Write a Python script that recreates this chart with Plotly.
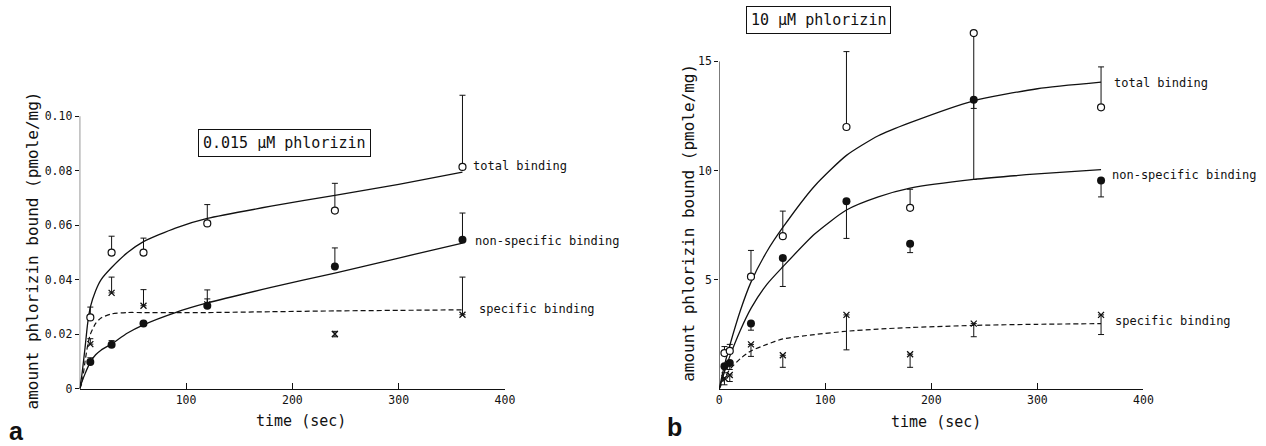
import plotly.graph_objects as go

W, H = 1266, 446          # reference picture size (layout positions are fractions of it)
FIG_W, FIG_H = 1274, 454  # figure size (page capture is scaled down to the window)

# ---------------- Panel a : 0.015 uM phlorizin ----------------
a_t = [10, 30, 60, 120, 240, 360]
a_total = [0.0262, 0.050, 0.050, 0.0607, 0.0654, 0.0814]
a_total_err_up = [0.0038, 0.006, 0.0053, 0.0069, 0.010, 0.0263]
a_nonspec = [0.0099, 0.0162, 0.024, 0.0305, 0.0449, 0.0547]
a_nonspec_err_up = [0.0015, 0.0015, 0.0, 0.0058, 0.0068, 0.0098]
a_spec = [0.0164, 0.0352, 0.0305, 0.031, 0.0201, 0.0272]
a_spec_err_up = [0.002, 0.0058, 0.0059, 0.002, 0.001, 0.0138]
a_spec_err_dn = [0.0, 0.0, 0.0, 0.0, 0.001, 0.0]

a_curve_t = [0, 2, 5, 7.5, 10, 15, 20, 30, 45, 60, 90, 120, 180, 240, 300, 360]
a_curve_total = [0, 0.005, 0.015, 0.024, 0.030, 0.036, 0.040, 0.0445, 0.050, 0.054,
                 0.059, 0.0625, 0.067, 0.071, 0.075, 0.0795]
a_curve_nonspec = [0, 0.0025, 0.0055, 0.0078, 0.0098, 0.0125, 0.0142, 0.0165, 0.0205,
                   0.0235, 0.028, 0.0315, 0.0372, 0.0425, 0.048, 0.0535]
a_curve_spec = [0, 0.002, 0.010, 0.016, 0.020, 0.024, 0.026, 0.0275, 0.028, 0.028,
                0.028, 0.028, 0.0283, 0.0286, 0.0288, 0.029]

a_yticks = [0, 0.02, 0.04, 0.06, 0.08, 0.10]
a_yticktext = ["0", "0.02", "0.04", "0.06", "0.08", "0.10"]
a_xticks = [100, 200, 300, 400]
a_ymax = 0.10

# ---------------- Panel b : 10 uM phlorizin ----------------
b_t = [5, 10, 30, 60, 120, 180, 240, 360]
b_total = [1.65, 1.75, 5.15, 7.0, 12.0, 8.3, 16.3, 12.9]
b_total_err_up = [0.3, 0.3, 1.2, 1.15, 3.45, 0.85, 0.0, 1.85]
b_total_err_dn = [0, 0, 0, 0, 0, 0, 6.7, 0]
b_nonspec = [1.05, 1.2, 3.0, 6.0, 8.6, 6.65, 13.25, 9.55]
b_nonspec_err_dn = [0.3, 0.3, 0.3, 1.3, 1.7, 0.4, 0.4, 0.75]
b_spec = [0.5, 0.65, 2.05, 1.55, 3.4, 1.6, 3.0, 3.4]
b_spec_err_dn = [0.3, 0.3, 0.55, 0.55, 1.6, 0.6, 0.6, 0.9]

b_curve_t = [0, 5, 10, 20, 30, 45, 60, 90, 120, 150, 180, 240, 300, 360]
b_curve_total = [0, 1.1, 2.0, 3.6, 4.9, 6.3, 7.4, 9.3, 10.7, 11.6, 12.2, 13.2, 13.75, 14.05]
b_curve_nonspec = [0, 0.8, 1.5, 2.7, 3.7, 4.8, 5.6, 7.1, 8.2, 8.8, 9.2, 9.6, 9.85, 10.05]
b_curve_spec = [0, 0.5, 0.9, 1.4, 1.75, 2.05, 2.3, 2.5, 2.65, 2.75, 2.82, 2.92, 2.97, 3.0]

b_yticks = [5, 10, 15]
b_xticks = [0, 100, 200, 300, 400]
b_ymax = 15

FONT = "DejaVu Sans Mono"
INK = "#111111"


def px(x):
    return x / W


def py(y):
    return 1 - y / H


fig = go.Figure()


def add_panel(xa, ya, t, total, tot_up, tot_dn, ns, ns_up, ns_dn, sp, sp_up, sp_dn,
              ct, c_tot, c_ns, c_sp):
    line = dict(color=INK, width=1.3)
    for cy in (c_tot, c_ns):
        fig.add_trace(go.Scatter(x=ct, y=cy, mode="lines",
                                 line=dict(line, shape="spline", smoothing=0.6),
                                 xaxis=xa, yaxis=ya, showlegend=False, hoverinfo="skip"))
    fig.add_trace(go.Scatter(x=ct, y=c_sp, mode="lines",
                             line=dict(color=INK, width=1.2, dash="5px,3px", shape="spline", smoothing=0.6),
                             xaxis=xa, yaxis=ya, showlegend=False, hoverinfo="skip"))

    def eb(up, dn):
        return dict(type="data", symmetric=False, array=up, arrayminus=dn,
                    color=INK, thickness=1, width=3)

    fig.add_trace(go.Scatter(x=t, y=sp, mode="markers", error_y=eb(sp_up, sp_dn),
                             marker=dict(symbol="x-thin-open", size=6, color=INK,
                                         line=dict(color=INK, width=1.3)),
                             xaxis=xa, yaxis=ya, showlegend=False, name="specific binding"))
    fig.add_trace(go.Scatter(x=t, y=ns, mode="markers", error_y=eb(ns_up, ns_dn),
                             marker=dict(symbol="circle", size=8, color=INK),
                             xaxis=xa, yaxis=ya, showlegend=False, name="non-specific binding"))
    fig.add_trace(go.Scatter(x=t, y=total, mode="markers", error_y=eb(tot_up, tot_dn),
                             marker=dict(symbol="circle", size=7, color="white",
                                         line=dict(color=INK, width=1.2)),
                             xaxis=xa, yaxis=ya, showlegend=False, name="total binding"))


zeros6 = [0] * len(a_t)
zeros8 = [0] * len(b_t)
add_panel("x", "y", a_t, a_total, a_total_err_up, zeros6, a_nonspec, a_nonspec_err_up, zeros6,
          a_spec, a_spec_err_up, a_spec_err_dn, a_curve_t, a_curve_total, a_curve_nonspec, a_curve_spec)
add_panel("x2", "y2", b_t, b_total, b_total_err_up, b_total_err_dn, b_nonspec, zeros8, b_nonspec_err_dn,
          b_spec, zeros8, b_spec_err_dn, b_curve_t, b_curve_total, b_curve_nonspec, b_curve_spec)

tickfont = dict(family=FONT, size=11.5, color=INK)
common_x = dict(showgrid=False, zeroline=False, showline=True, linecolor=INK, linewidth=1,
                ticks="inside", ticklen=6, tickcolor=INK, tickfont=tickfont, range=[0, 400],
                fixedrange=True)
common_y = dict(showgrid=False, zeroline=False, showline=False,
                ticks="outside", ticklen=4, tickcolor=INK, tickfont=tickfont, fixedrange=True)

# y ranges extend a little above the drawn axis so that the tall error bars are not clipped
a_pxu = 2720.0      # pixels per unit, panel a
b_pxu = 21.8        # pixels per unit, panel b
a_top = 0.109
b_top = 16.7
fig.update_layout(
    width=FIG_W, height=FIG_H, margin=dict(l=0, r=0, t=0, b=0),
    paper_bgcolor="white", plot_bgcolor="rgba(0,0,0,0)",
    font=dict(family=FONT, color=INK),
    xaxis=dict(common_x, domain=[px(77), px(504)], tickvals=a_xticks, anchor="y"),
    yaxis=dict(common_y, domain=[1 - 388 / H, 1 - (388 - a_top * a_pxu) / H], range=[0, a_top],
               tickvals=a_yticks, ticktext=a_yticktext, anchor="x"),
    xaxis2=dict(common_x, domain=[px(719), px(1145)], tickvals=b_xticks, anchor="y2"),
    yaxis2=dict(common_y, domain=[1 - 388.3 / H, 1 - (388.3 - b_top * b_pxu) / H], range=[0, b_top],
                tickvals=b_yticks, anchor="x2"),
    shapes=[
        dict(type="line", xref="x", yref="y", x0=0, x1=0, y0=0, y1=a_ymax,
             line=dict(color=INK, width=1)),
        dict(type="line", xref="x2", yref="y2", x0=0, x1=0, y0=0, y1=b_ymax,
             line=dict(color=INK, width=1)),
    ],
)

ann = []
lab = dict(family=FONT, size=12, color=INK)
# curve labels panel a
for txt, x, y in [("total binding", 368, 0.0816), ("non-specific binding", 370, 0.0544),
                  ("specific binding", 374, 0.0294)]:
    ann.append(dict(text=txt, x=x, y=y, xref="x", yref="y", xanchor="left", yanchor="middle",
                    showarrow=False, font=lab))
# curve labels panel b
for txt, x, y in [("total binding", 370, 14.0), ("non-specific binding", 368, 9.78),
                  ("specific binding", 371, 3.13)]:
    ann.append(dict(text=txt, x=x, y=y, xref="x2", yref="y2", xanchor="left", yanchor="middle",
                    showarrow=False, font=lab))


def centered(text, x, y, size, angle=0, family=FONT, **kw):
    return dict(text=text, x=px(x), y=py(y), xref="paper", yref="paper", xanchor="center",
                yanchor="middle", textangle=angle, showarrow=False,
                font=dict(family=family, size=size, color=INK), **kw)


# boxed titles
ann.append(centered("0.015 μM phlorizin", 283, 143, 15, bordercolor=INK, borderwidth=1,
                    borderpad=4, bgcolor="white"))
ann.append(centered("10 μM phlorizin", 819, 20, 15, bordercolor=INK, borderwidth=1,
                    borderpad=4, bgcolor="white"))

# axis titles
ytitle = "amount phlorizin bound (pmole/mg)"
ann.append(centered(ytitle, 30, 250, 16, angle=-90))
ann.append(centered(ytitle, 688, 222, 16, angle=-90))
ann.append(centered("time (sec)", 299, 420, 15))
ann.append(centered("time (sec)", 937, 421, 15))

# panel letters
ann.append(centered("<b>a</b>", 14, 430, 25, family="Liberation Sans"))
ann.append(centered("<b>b</b>", 674, 426, 25, family="Liberation Sans"))

fig.update_layout(annotations=ann)

fig.write_html("out.html", config={"displayModeBar": False},
               post_script="document.body.style.margin='0px';")
